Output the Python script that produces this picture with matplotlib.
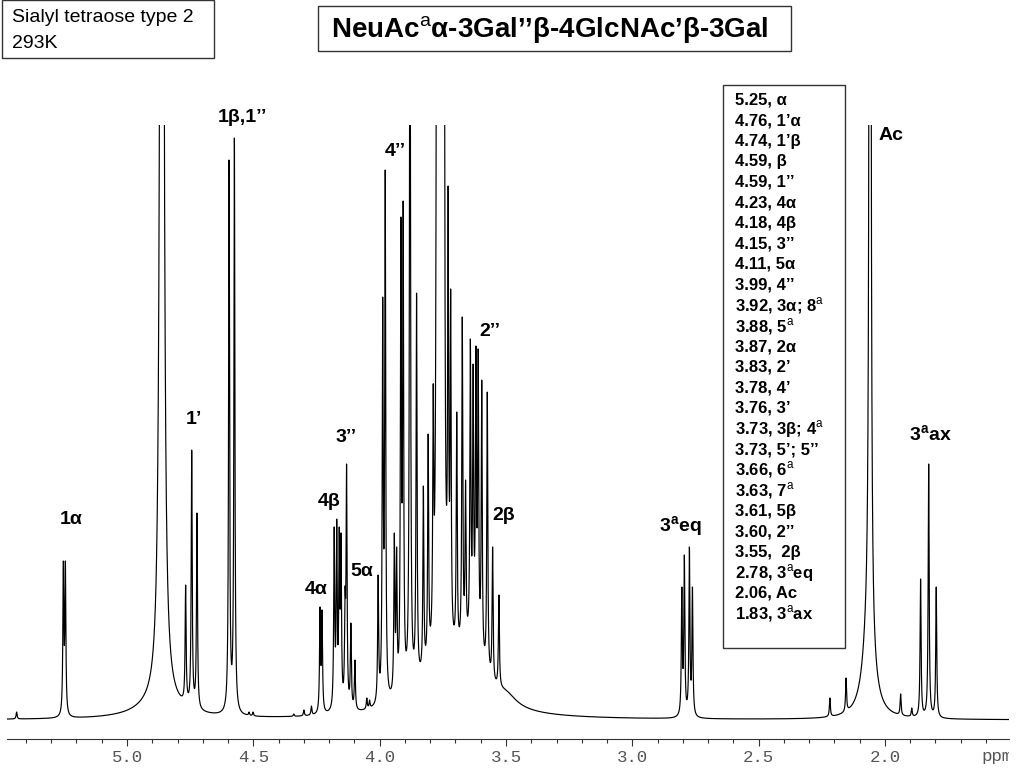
import numpy as np
import matplotlib
matplotlib.use('Agg')
import matplotlib.pyplot as plt
from matplotlib.patches import Rectangle
from matplotlib.ticker import MultipleLocator, FormatStrFormatter

plt.rcParams['font.family'] = ['Liberation Sans', 'DejaVu Sans']
plt.rcParams['mathtext.fontset'] = 'custom'
plt.rcParams['mathtext.rm'] = 'Liberation Sans'
plt.rcParams['mathtext.bf'] = 'Liberation Sans:bold'

# sharp lines: shift [ppm] and apex height [a.u.]
line_ppm = [5.437, 5.252, 5.244, 4.889, 4.768, 4.744, 4.723, 4.596, 4.575,
            4.517, 4.501, 4.34, 4.30, 4.27, 4.236, 4.228,
            4.180, 4.170, 4.160, 4.153, 4.137, 4.131, 4.114, 4.098,
            4.051, 4.040, 4.006, 3.988, 3.978, 3.942, 3.933, 3.916, 3.907,
            3.854, 3.827, 3.808, 3.788, 3.729, 3.719, 3.695, 3.673, 3.660,
            3.641, 3.630, 3.619, 3.610, 3.596, 3.574, 3.553, 3.528,
            2.804, 2.794, 2.774, 2.762, 2.218, 2.154, 1.938, 1.894,
            1.859, 1.827, 1.797]
line_height = [8, 159, 159, 70, 135, 270, 207, 560, 582,
               8, 8, 6, 10, 14, 113, 110,
               193, 201, 193, 187, 133, 256, 97, 60,
               22, 20, 145, 423, 550, 187, 173, 503, 519,
               427, 234, 286, 336, 534, 431, 308, 403, 240,
               381, 356, 374, 371, 340, 328, 173, 125,
               133, 165, 173, 133, 22, 42, 26, 12,
               141, 256, 133]
LINE_HWHM = 0.0023

# lines that run off the top of the plot (HDO, sugar ring envelope, acetyl)
big_ppm = [4.862, 3.880, 3.774, 3.767, 3.760, 3.752, 3.745, 2.059]
big_height = [4200, 800, 700, 700, 700, 700, 700, 3700]
big_hwhm = [0.004, 0.0025, 0.003, 0.003, 0.003, 0.003, 0.003, 0.002]

# broad humps under the sharp lines
broad_ppm = [4.87, 3.74, 3.63, 3.50, 2.065]
broad_height = [15, 45, 40, 12, 90]
broad_hwhm = [0.10, 0.13, 0.05, 0.05, 0.025]

# peak labels: text, shift [ppm], height [a.u.]
label_text = ['1α', '1’', '1β,1’’', '4α', '4β', '3’’', '5α', '4’’', '2’’', '2β',
              r'3$^{\mathbf{a}}$eq', 'Ac', r'3$^{\mathbf{a}}$ax']
label_ppm = [5.222, 4.735, 4.545, 4.252, 4.200, 4.133, 4.070, 3.939, 3.564,
             3.508, 2.811, 1.976, 1.822]
label_int = [200, 300, 602, 131, 219, 282, 148, 568, 389, 204, 193, 585, 285]

# assignment table
table_shift = [5.25, 4.76, 4.74, 4.59, 4.59, 4.23, 4.18, 4.15, 4.11, 3.99,
               3.92, 3.88, 3.87, 3.83, 3.78, 3.76, 3.73, 3.73, 3.66, 3.63,
               3.61, 3.60, 3.55, 2.78, 2.06, 1.83]
table_assign = ['α', '1’α', '1’β', 'β', '1’’', '4α', '4β', '3’’', '5α', '4’’',
                r'3α; 8$^{\mathrm{a}}$', r'5$^{\mathrm{a}}$', '2α', '2’', '4’', '3’',
                r'3β; 4$^{\mathrm{a}}$', '5’; 5’’', r'6$^{\mathrm{a}}$',
                r'7$^{\mathrm{a}}$', '5β', '2’’', ' 2β', r'3$^{\mathrm{a}}$eq',
                'Ac', r'3$^{\mathrm{a}}$ax']

W, H = 1024, 768


def lorentz(x, x0, h, g):
    return h * g ** 2 / ((x - x0) ** 2 + g ** 2)


def fx(px):
    return px / W


def fy(py):
    return 1 - py / H


def main():
    ppm = np.linspace(5.475, 1.509, 40000)
    lp = np.array(line_ppm)
    lh = np.array(line_height, dtype=float)

    fixed = np.zeros_like(ppm)
    fixed_at = np.zeros_like(lp)
    for x0, h, g in zip(big_ppm + broad_ppm, big_height + broad_height,
                        big_hwhm + broad_hwhm):
        fixed += lorentz(ppm, x0, h, g)
        fixed_at += lorentz(lp, x0, h, g)

    # scale the sharp lines so the summed curve hits the read apex heights
    M = lorentz(lp[:, None], lp[None, :], 1.0, LINE_HWHM)
    amps = lh.copy()
    for _ in range(60):
        amps = np.clip(amps + 0.5 * (lh - M @ amps - fixed_at), 0, None)

    spec = fixed.copy()
    for x0, a in zip(lp, amps):
        spec += lorentz(ppm, x0, a, LINE_HWHM)

    fig = plt.figure(figsize=(W / 100, H / 100), dpi=100)
    ax = fig.add_axes([fx(7), fy(739), fx(1009) - fx(7), fy(125) - fy(739)])
    ax.plot(ppm, spec, color='black', lw=0.85)
    ax.set_xlim(5.475, 1.509)
    ax.set_ylim(-19, 595)

    for side in ['top', 'left', 'right']:
        ax.spines[side].set_visible(False)
    ax.spines['bottom'].set_color('#333333')
    ax.set_yticks([])
    ax.xaxis.set_major_locator(MultipleLocator(0.5))
    ax.xaxis.set_minor_locator(MultipleLocator(0.1))
    ax.xaxis.set_major_formatter(FormatStrFormatter('%.1f'))
    ax.tick_params(axis='x', which='major', length=5, width=0.8,
                   color='#333333', labelcolor='#555555', labelsize=12.5, pad=3)
    ax.tick_params(axis='x', which='minor', length=3, width=0.8, color='#333333')
    for t in ax.get_xticklabels():
        t.set_fontfamily('Liberation Mono')

    # "ppm" cut off at the right edge as in the original
    clip_ax = fig.add_axes([0, 0, fx(1009), 1])
    clip_ax.axis('off')
    clip_ax.text(fx(981), fy(757), 'ppm', transform=fig.transFigure,
                 fontfamily='Liberation Mono', fontsize=12.5, color='#555555',
                 ha='left', va='center', clip_on=True)

    for txt, x, y in zip(label_text, label_ppm, label_int):
        ax.text(x, y, txt, ha='center', va='center', fontsize=14,
                fontweight='bold', clip_on=False)

    # sample box
    fig.add_artist(Rectangle((fx(2), fy(58)), fx(212), 58 / H,
                             transform=fig.transFigure, fill=False,
                             lw=1, edgecolor='#333333'))
    fig.text(fx(12), fy(18), 'Sialyl tetraose type 2', fontsize=14,
             ha='left', va='center')
    fig.text(fx(12), fy(43), '293K', fontsize=14, ha='left', va='center')

    # structure box
    fig.add_artist(Rectangle((fx(318), fy(51)), fx(473), 45 / H,
                             transform=fig.transFigure, fill=False,
                             lw=1, edgecolor='#333333'))
    fig.text(fx(550), fy(30), r'NeuAc$^{\mathrm{a}}$α-3Gal’’β-4GlcNAc’β-3Gal',
             fontsize=20, fontweight='bold', ha='center', va='center')

    # assignment table
    fig.add_artist(Rectangle((fx(723), fy(648)), fx(122), 563 / H,
                             transform=fig.transFigure, fill=False,
                             lw=1, edgecolor='#333333'))
    for i, (s, a) in enumerate(zip(table_shift, table_assign)):
        fig.text(fx(735), fy(100 + i * 20.56), f'{s:.2f}, {a}', fontsize=12,
                 fontweight='bold', ha='left', va='center')

    fig.savefig('out.png', dpi=100)


if __name__ == '__main__':
    main()
